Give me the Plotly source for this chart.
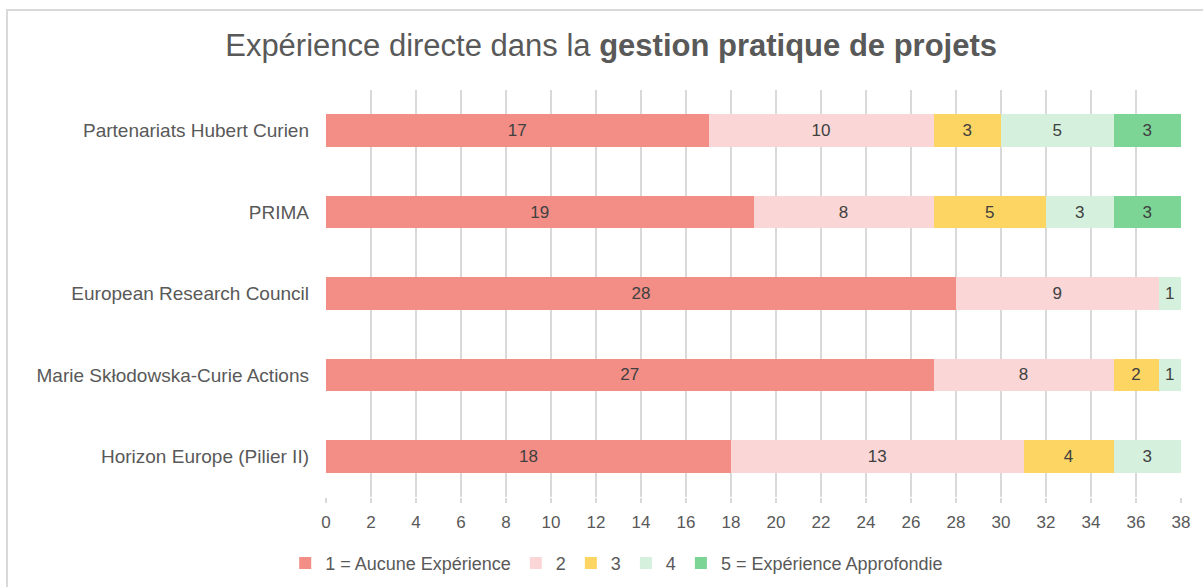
import plotly.graph_objects as go

categories = ["Partenariats Hubert Curien", "PRIMA", "European Research Council",
              "Marie Skłodowska-Curie Actions", "Horizon Europe (Pilier II)"]
series_names = ["1 = Aucune Expérience", "2", "3", "4", "5 = Expérience Approfondie"]
s1 = [17, 19, 28, 27, 18]
s2 = [10, 8, 9, 8, 13]
s3 = [3, 5, 0, 2, 4]
s4 = [5, 3, 1, 1, 3]
s5 = [3, 3, 0, 0, 0]
colors = ["#F28E86", "#FAD7D6", "#FDD563", "#D5F0DC", "#7CD595"]
x_ticks = list(range(0, 39, 2))

series = [s1, s2, s3, s4, s5]
FONT = "Liberation Sans, Arial, sans-serif"

fig = go.Figure()
for name, vals, col in zip(series_names, series, colors):
    fig.add_trace(go.Bar(
        y=categories, x=vals, name=name, orientation="h",
        marker=dict(color=col, line=dict(width=0)),
        text=[str(v) if v else "" for v in vals],
        textposition="inside", insidetextanchor="middle", textangle=0,
        constraintext="none",
        textfont=dict(color="#404040", size=17, family=FONT),
        width=0.4,
    ))

fig.update_layout(
    barmode="stack",
    width=1203, height=587,
    margin=dict(l=326, r=22, t=90, b=90, autoexpand=False),
    paper_bgcolor="white", plot_bgcolor="white",
    font=dict(family=FONT, color="#595959", size=17),
    title=dict(text="Expérience directe dans la <b>gestion pratique de projets</b>",
               x=0.508, xanchor="center", y=0.923, yanchor="middle",
               font=dict(size=31, color="#595959")),
    legend=dict(orientation="h", x=0.34, xanchor="center", y=-0.163, yanchor="middle",
                font=dict(size=18, color="#595959"), traceorder="normal",
                itemwidth=30),
    showlegend=True,
)
fig.update_xaxes(range=[0, 38], tickvals=x_ticks, showgrid=True, gridcolor="#D9D9D9",
                 gridwidth=1.5, zeroline=False, showline=False,
                 ticks="outside", ticklen=5, tickcolor="#D9D9D9", tickwidth=1.5,
                 ticklabelstandoff=5,
                 tickfont=dict(size=17, color="#595959"))
fig.update_yaxes(categoryorder="array", categoryarray=categories[::-1],
                 showgrid=False, showline=False, ticks="", ticklabelstandoff=16,
                 tickfont=dict(size=19, color="#595959"))

fig.add_shape(type="rect", xref="paper", yref="paper",
              x0=(7 - 326) / 855, x1=(1215 - 326) / 855,
              y0=(497 - 600) / 407, y1=(497 - 10) / 407,
              line=dict(color="#D9D9D9", width=2), fillcolor="rgba(0,0,0,0)", layer="below")

fig.write_html("out.html",
               config={"displayModeBar": False},
               post_script="document.body.style.margin='0';document.body.style.overflow='hidden';")
